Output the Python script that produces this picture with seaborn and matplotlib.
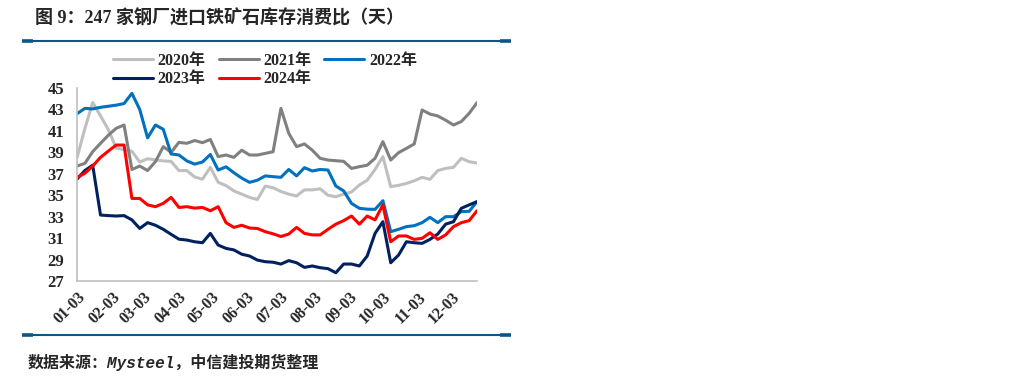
import matplotlib
matplotlib.use("Agg")
import matplotlib.dates as mdates
import matplotlib.pyplot as plt
import pandas as pd
import seaborn as sns
from matplotlib.lines import Line2D

# ──────────────────────────────────────────────
# Dados (semanais)
# ──────────────────────────────────────────────
semanas = pd.date_range("2023-01-03", periods=52, freq="7D")
anos = ["2020年", "2021年", "2022年", "2023年", "2024年"]
cores = ["#BFBFBF", "#808080", "#0070C0", "#002060", "#FF0000"]

v2020 = [38.5, 41.2, 43.65, 42.4, 41.1, 39.4, 39.25, 39.1, 38.1, 38.4,
         38.3, 38.2, 38.15, 37.3, 37.3, 36.7, 36.5, 37.6, 36.2, 35.9,
         35.4, 35.1, 34.8, 34.6, 35.85, 35.7, 35.35, 35.1, 34.93, 35.5,
         35.5, 35.6, 35.0, 34.86, 35.1, 35.3, 35.95, 36.4, 37.4, 38.6,
         35.8, 35.92, 36.1, 36.35, 36.67, 36.48, 37.3, 37.5, 37.6, 38.44,
         38.13, 38.0]
v2021 = [37.72, 37.97, 39.06, 39.84, 40.6, 41.24, 41.55, 37.4, 37.72, 37.3,
         38.13, 39.53, 39.0, 39.93, 39.84, 40.1, 39.9, 40.2, 38.6, 38.75,
         38.53, 39.2, 38.75, 38.75, 38.9, 39.06, 43.1, 40.77, 39.53, 39.78,
         39.2, 38.44, 38.28, 38.22, 38.16, 37.5, 37.66, 37.8, 38.44, 40.0,
         38.28, 38.97, 39.37, 39.78, 42.95, 42.57, 42.39, 42.0, 41.55, 41.87,
         42.64, 43.63]
v2022 = [42.6, 43.1, 43.05, 43.2, 43.3, 43.4, 43.55, 44.5, 43.0, 40.35,
         41.55, 41.15, 38.85, 38.75, 38.2, 37.9, 38.1, 38.8, 37.35, 37.65,
         37.1, 36.6, 36.2, 36.4, 36.8, 36.73, 36.67, 37.4, 36.8, 37.57,
         37.26, 37.4, 37.35, 35.86, 35.4, 34.24, 33.78, 33.7, 33.68, 34.49,
         31.6, 31.82, 32.07, 32.16, 32.44, 32.94, 32.44, 33.0, 33.0, 33.47,
         33.5, 34.4]
v2023 = [36.5, 37.3, 37.8, 33.15, 33.1, 33.06, 33.1, 32.7, 31.9, 32.44,
         32.2, 31.82, 31.35, 30.9, 30.82, 30.66, 30.57, 31.44, 30.35, 30.04,
         29.9, 29.5, 29.33, 28.95, 28.8, 28.75, 28.58, 28.9, 28.7, 28.27,
         28.4, 28.24, 28.15, 27.77, 28.58, 28.58, 28.4, 29.33, 31.44, 32.53,
         28.7, 29.42, 30.66, 30.57, 30.51, 30.88, 31.38, 32.3, 32.53, 33.78,
         34.1, 34.4]
v2024 = [36.67, 37.04, 37.72, 38.53, 39.12, 39.68, 39.68, 34.7, 34.7, 34.1,
         33.93, 34.24, 34.8, 33.86, 33.93, 33.8, 33.86, 33.55, 33.93, 32.44,
         32.0, 32.2, 31.94, 31.9, 31.6, 31.4, 31.15, 31.38, 32.0, 31.44,
         31.3, 31.3, 31.82, 32.3, 32.63, 33.06, 32.3, 33.06, 32.7, 34.1,
         30.66, 31.2, 31.2, 30.88, 30.98, 31.5, 30.88, 31.3, 32.07, 32.44,
         32.63, 33.55]

series = [v2020, v2021, v2022, v2023, v2024]

# ──────────────────────────────────────────────
# Estilo
# ──────────────────────────────────────────────
sns.set_style("white")
plt.rcParams["font.family"] = ["Liberation Serif", "Noto Sans CJK SC"]
plt.rcParams["font.weight"] = "bold"
plt.rcParams["axes.unicode_minus"] = False

W, H = 1036, 388
fig = plt.figure(figsize=(W / 100, H / 100), dpi=100)
ax = fig.add_axes([77 / W, 1 - 281 / H, 400 / W, 193 / H])

df = pd.concat(
    [pd.DataFrame({"data": semanas, "valor": v, "ano": a}) for v, a in zip(series, anos)],
    ignore_index=True,
)
sns.lineplot(
    data=df, x="data", y="valor", hue="ano", hue_order=anos,
    palette=cores, linewidth=2.2, ax=ax,
)
handles, labels = ax.get_legend_handles_labels()
ax.get_legend().remove()

# Eixos
ax.set_xlim(semanas[0], semanas[-1])
ax.set_ylim(27, 45)
ax.set_yticks(range(27, 46, 2))
ax.xaxis.set_major_locator(mdates.MonthLocator(bymonthday=3))
ax.xaxis.set_major_formatter(mdates.DateFormatter("%m-%d"))
ax.set_xlabel("")
ax.set_ylabel("")
for lado in ["top", "right"]:
    ax.spines[lado].set_visible(False)
for lado in ["left", "bottom"]:
    ax.spines[lado].set_color("#BFBFBF")
    ax.spines[lado].set_linewidth(1.2)
ax.tick_params(axis="both", direction="out", length=4, width=1.2, color="#BFBFBF",
               labelsize=12, pad=5)
ax.tick_params(axis="x", pad=2, labelsize=11.5)
for t in ax.get_xticklabels():
    t.set_rotation(45)
    t.set_ha("right")
    t.set_rotation_mode("anchor")
for t in ax.get_xticklabels() + ax.get_yticklabels():
    t.set_fontweight("bold")

# Legenda em duas linhas (ordem por linha)
ordem = [0, 3, 1, 4, 2]
fig.legend(
    [handles[i] for i in ordem], [labels[i] for i in ordem],
    ncol=3, loc="center", bbox_to_anchor=(265 / W, 1 - 70 / H),
    frameon=False, handlelength=2.5, handletextpad=0.3, columnspacing=0.8,
    labelspacing=0.15, prop={"weight": "bold", "size": 11.5},
)

# Título, linhas de separação e fonte
fig.text(35 / W, 1 - 18 / H, "图 9：247 家钢厂进口铁矿石库存消费比（天）",
         fontsize=13, fontweight="bold", va="center", ha="left")
azul = "#0F5688"
for y in (40.5, 335):
    yf = 1 - y / H
    fig.add_artist(Line2D([23 / W, 510 / W], [yf, yf], color=azul, lw=1.5,
                          solid_capstyle="butt"))
    fig.add_artist(Line2D([22 / W, 33 / W], [yf, yf], color=azul, lw=2.6,
                          solid_capstyle="butt"))
    fig.add_artist(Line2D([500 / W, 511 / W], [yf, yf], color=azul, lw=2.6,
                          solid_capstyle="butt"))
fig.text(28 / W, 1 - 362 / H, "数据来源：Mysteel，中信建投期货整理",
         fontsize=11.5, fontweight="bold", style="italic", va="center", ha="left",
         family=["Liberation Mono", "Noto Sans CJK SC"])

fig.savefig("out.png", dpi=100)
plt.close(fig)
